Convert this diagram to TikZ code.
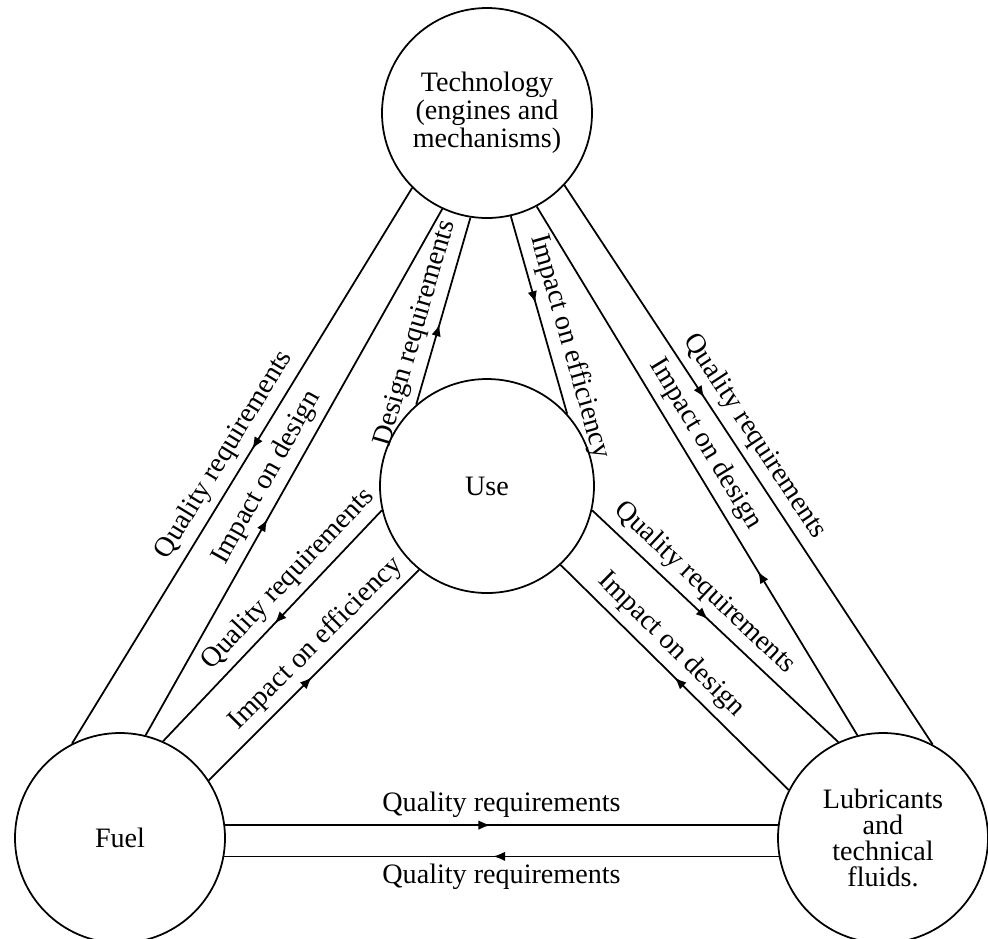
\documentclass[tikz,border=0pt]{standalone}
\usepackage{fontspec}
\setmainfont{Liberation Serif}
\usetikzlibrary{arrows.meta,decorations.markings}

\begin{document}
\begin{tikzpicture}[
  every node/.style={font=\fontsize{16}{16}\selectfont},
  part/.style={draw,circle,line width=1pt,minimum size=4.2cm,inner sep=0pt,align=center},
  link/.style={line width=1pt},
  arrowat/.style={postaction={decorate},decoration={markings,mark=at position #1 with {\arrow{Latex[length=2.4mm,width=1.9mm]}}}},
  txt/.style={sloped,above=3pt,inner sep=1pt}
]
\useasboundingbox (0,0) rectangle (19.76,-18.78);

% the four circles
\node[part] (tech) at (9.74,-2.26) {Technology\\(engines and\\mechanisms)};
\node[part,minimum size=4.28cm] (use) at (9.74,-9.72) {Use};
\node[part] (fuel) at (2.40,-16.76) {Fuel};
\node[part,font=\fontsize{16}{14.7}\selectfont] (lub) at (17.66,-16.76) {Lubricants\\and\\technical\\fluids.};

% technology -- fuel
\draw[link,arrowat=0.47] (tech.225) -- node[txt,pos=0.5] {Quality requirements} (fuel.117);
\draw[link,arrowat=0.41] (fuel.76) -- node[txt,pos=0.47] {Impact on design} (tech.245);

% technology -- use
\draw[link,arrowat=0.43] (use.131) -- node[txt,pos=0.35] {Design requirements} (tech.261);
\draw[link,arrowat=0.44] (tech.283) -- node[txt,pos=0.69] {Impact on efficiency} (use.42);

% technology -- lubricants
\draw[link,arrowat=0.38] (tech.317) -- node[txt,pos=0.47] {Quality requirements} (lub.62);
\draw[link,arrowat=0.31] (lub.104) -- node[txt,pos=0.53] {Impact on design} (tech.298);

% use -- fuel
\draw[link,arrowat=0.49] (use.193) -- node[txt,pos=0.36] {Quality requirements} (fuel.66);
\draw[link,arrowat=0.49] (fuel.33) -- node[txt,pos=0.58] {Impact on efficiency} (use.231);

% use -- lubricants
\draw[link,arrowat=0.47] (use.347) -- node[txt,pos=0.40] {Quality requirements} (lub.115);
\draw[link,arrowat=0.5] (lub.153) -- node[txt,pos=0.58] {Impact on design} (use.313);

% fuel -- lubricants
\draw[link,arrowat=0.48] (fuel.7) -- node[above=3pt,inner sep=1pt] {Quality requirements} (lub.173);
\draw[link,arrowat=0.515] (lub.190) -- node[below=3pt,inner sep=1pt] {Quality requirements} (fuel.350);
\end{tikzpicture}
\end{document}
